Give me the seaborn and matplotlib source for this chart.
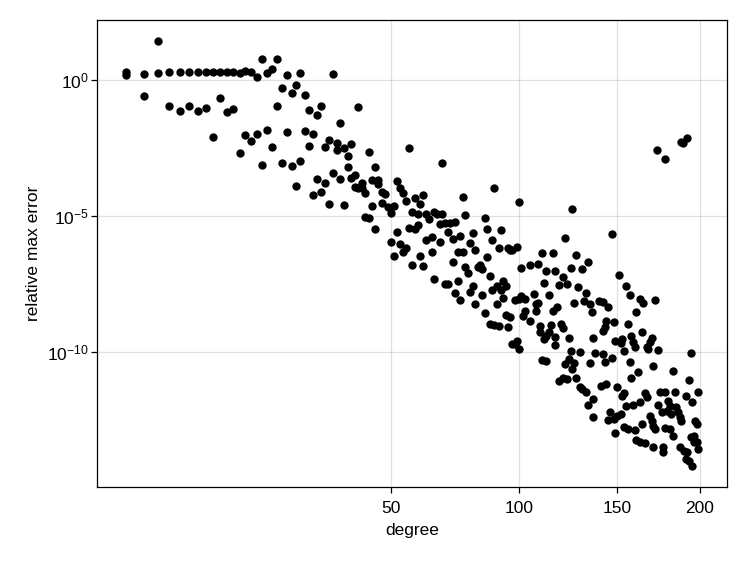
"""
Scatter of relative max error against polynomial degree (sqrt x, log y).
"""

import numpy as np
import pandas as pd
import matplotlib
matplotlib.use('Agg')
import matplotlib.pyplot as plt
import seaborn as sns
from matplotlib.ticker import FixedLocator, FixedFormatter, NullLocator


# Values: degree and log10(relative max error)
deg_low = [1, 1, 2, 2, 3, 3, 4, 4, 5, 5, 6, 6, 7, 7, 8, 8, 9, 9, 10, 10,
           11, 11, 12, 12, 13, 13, 14, 14, 15, 15, 16, 16, 17, 17, 18, 18,
           19, 19, 20, 20, 21, 21, 22, 22, 23, 23, 24, 24, 25, 25, 26, 26,
           27, 27, 28, 28, 29, 29, 30, 30, 31, 31, 32, 32, 33, 33, 34, 34,
           35, 35, 36, 36, 37, 37, 38, 38, 39, 39, 40, 40]
err_low = [0.28, 0.16, 0.20, -0.59, 1.42, 0.27, 0.29, -0.96, 0.29, -1.14,
           0.29, -0.97, 0.29, -1.15, 0.29, -1.02, 0.29, -2.11, 0.29, -0.65,
           0.29, -1.19, 0.29, -1.09, 0.27, -2.68, 0.31, -2.04, 0.29, -2.26,
           0.10, -1.99, 0.75, -3.12, 0.27, -1.85, 0.40, -2.48, 0.75, -0.98,
           -0.29, -3.05, 0.18, -1.93, -0.49, -3.17, -0.18, -3.92, 0.27, -3.00,
           -0.55, -1.90, -1.10, -2.44, -1.99, -4.25, -1.31, -3.66, -0.96, -4.11,
           -2.48, -3.79, -2.23, -4.58, 0.21, -3.42, -2.32, -2.58, -1.57, -3.63,
           -2.52, -4.62, -2.81, -3.22, -2.36, -3.62, -3.49, -3.93, -1.01, -3.99]

deg_mid = [41, 41, 42, 42, 43, 43, 44, 44, 45, 45, 46, 46, 47, 47, 48, 49,
           50, 50, 51, 51, 52, 52, 53, 53, 54, 54, 55, 55, 56, 56, 57, 57,
           58, 58, 59, 59, 60, 60, 61, 61, 62, 62, 63, 64, 64, 65, 65, 66,
           67, 67, 68, 68, 69, 69, 70, 70, 71, 72, 72, 73, 73, 74, 74, 75,
           75, 76, 76, 77, 77, 78, 79, 79, 80, 80, 81, 81, 82, 83, 84, 84,
           85, 85, 86, 86, 87, 87, 88, 88, 89, 89, 90, 90, 91, 91, 92, 92,
           93, 93, 94, 94, 95, 95, 96, 96, 97, 97, 98, 98, 99, 99, 100, 100,
           100]
err_mid = [-3.81, -3.99, -4.15, -5.03, -2.64, -5.10, -3.67, -4.64, -3.22, -5.48,
           -3.67, -3.83, -4.11, -4.54, -4.20, -4.69, -4.91, -5.98, -4.63, -6.47,
           -3.71, -5.58, -3.99, -6.04, -4.17, -6.32, -4.45, -6.20, -2.52, -5.46,
           -4.87, -6.80, -4.34, -5.48, -4.92, -5.33, -4.55, -6.48, -4.25, -6.85,
           -4.93, -5.91, -5.12, -5.79, -6.35, -4.85, -7.31, -4.92, -5.30, -5.98,
           -3.07, -4.93, -5.26, -7.53, -5.58, -7.53, -5.26, -5.85, -6.69, -5.24,
           -7.85, -6.32, -7.41, -5.74, -8.10, -4.30, -6.32, -4.97, -6.90, -7.09,
           -6.01, -7.82, -5.65, -7.57, -6.26, -8.24, -6.87, -6.80, -6.96, -7.90,
           -5.08, -8.57, -5.47, -6.53, -7.22, -9.00, -5.91, -7.75, -3.99, -9.01,
           -7.60, -8.24, -6.20, -9.05, -5.51, -7.75, -7.41, -8.02, -7.60, -8.64,
           -6.18, -9.08, -6.25, -8.74, -6.26, -9.72, -8.10, -9.72, -6.14, -9.60,
           -4.50, -9.90, -8.06]

# degree 101-140
deg_high_a = [101, 105, 109, 111, 112, 113, 116, 117, 119, 121, 122, 123, 125,
              126, 128, 129, 131, 134, 101, 103, 107, 108, 109, 108, 103, 102,
              105, 114, 118, 116, 127, 132, 133, 135, 136, 140, 110, 110, 113,
              115, 120, 121, 114, 117, 117, 112, 124, 137, 125, 130, 124, 127,
              122, 126, 138, 135, 111, 113, 121, 119, 123, 128, 130, 133, 131,
              137, 134, 137]
err_high_a = [-6.94, -6.81, -6.79, -6.38, -7.49, -7.04, -6.37, -7.04, -7.55, -7.27,
              -5.81, -7.51, -6.93, -4.74, -6.46, -7.63, -6.95, -6.69, -7.94, -8.06,
              -7.88, -8.24, -8.22, -8.49, -8.49, -8.68, -8.86, -7.90, -8.34, -8.49,
              -8.22, -8.12, -7.85, -8.24, -8.55, -8.15, -9.04, -9.29, -9.41, -9.01,
              -8.98, -9.13, -9.29, -9.47, -9.74, -9.53, -9.51, -9.51, -9.96, -10.03,
              -10.27, -10.43, -10.45, -10.64, -10.05, -10.43, -10.29, -10.33, -10.97,
              -11.09, -11.00, -10.97, -11.31, -11.47, -11.37, -11.74, -11.95, -12.39]

# degree 141-200
deg_high_b = [147, 151, 155, 157, 163, 165, 172, 161, 142, 145, 144, 143, 142,
              148, 156, 164, 149, 153, 152, 158, 159, 160, 170, 169, 167, 168,
              174, 194, 142, 143, 147, 154, 157, 162, 171, 183, 141, 144, 150,
              158, 193, 153, 154, 166, 167, 175, 178, 184, 191, 199, 195, 155,
              159, 163, 174, 180, 181, 185, 179, 176, 182, 186, 187, 146, 145,
              150, 152, 148, 169, 170, 171, 172, 164, 154, 156, 160, 149, 178,
              181, 183, 188, 197, 198, 161, 163, 166, 171, 177, 177, 187, 190,
              192, 194, 196, 198, 199, 196, 191, 193, 195]
err_high_b = [-5.66, -7.17, -7.57, -7.90, -8.06, -8.20, -8.09, -8.53, -8.19, -8.37,
              -8.86, -9.11, -9.23, -8.90, -8.98, -9.29, -9.60, -9.53, -9.69, -9.44,
              -9.66, -9.82, -9.50, -9.66, -9.82, -9.90, -9.94, -10.05, -10.08, -10.39,
              -10.23, -9.99, -10.39, -10.76, -10.52, -10.73, -11.25, -11.19, -11.29,
              -10.97, -11.03, -11.62, -11.53, -11.53, -11.68, -11.50, -11.50, -11.50,
              -11.62, -11.47, -11.87, -11.99, -11.95, -11.87, -11.96, -11.83, -11.99,
              -12.05, -12.17, -12.23, -12.29, -12.23, -12.42, -12.23, -12.53, -12.36,
              -12.29, -12.48, -12.36, -12.54, -12.72, -12.85, -12.66, -12.79, -12.85,
              -12.88, -13.01, -12.81, -12.85, -13.09, -12.54, -12.54, -12.66, -13.25,
              -13.34, -13.38, -13.50, -13.50, -13.71, -13.52, -13.64, -13.71, -13.15,
              -13.09, -13.34, -13.58, -13.34, -13.95, -14.01, -14.20]

# the few high-degree runs that blew up
deg_outlier = [173, 178, 188, 189, 192]
err_outlier = [-2.57, -2.93, -2.30, -2.32, -2.13]

y_ticks = [1e0, 1e-5, 1e-10]
y_ticklabels = ['$10^{0}$', '$10^{-5}$', '$10^{-10}$']
x_ticks = [50, 100, 150, 200]


sns.set_style('white')
plt.rcParams['font.family'] = ['Liberation Sans', 'DejaVu Sans']
plt.rcParams['mathtext.fontset'] = 'custom'
plt.rcParams['mathtext.rm'] = 'Liberation Sans'
plt.rcParams['mathtext.it'] = 'Liberation Sans:italic'
plt.rcParams['mathtext.bf'] = 'Liberation Sans:bold'
plt.rcParams['text.color'] = 'black'
plt.rcParams['axes.labelcolor'] = 'black'
plt.rcParams['xtick.color'] = 'black'
plt.rcParams['ytick.color'] = 'black'

df = pd.DataFrame({
    'degree': deg_low + deg_mid + deg_high_a + deg_high_b + deg_outlier,
    'log_err': err_low + err_mid + err_high_a + err_high_b + err_outlier,
})
df['error'] = 10.0 ** df['log_err']

fig = plt.figure(figsize=(7.47, 5.61), dpi=100)
ax = fig.add_axes([0.1299, 0.1319, 0.8434, 0.8324])

sns.scatterplot(data=df, x='degree', y='error', color='black', s=36,
                linewidth=0, ax=ax, legend=False, zorder=3)

ax.set_xscale('function', functions=(np.sqrt, np.square))
ax.set_yscale('log')

# 5% margin in transformed space
sx = np.sqrt(df['degree'])
pad = 0.05 * (sx.max() - sx.min())
ax.set_xlim((sx.min() - pad) ** 2, (sx.max() + pad) ** 2)
ly = df['log_err']
pad = 0.05 * (ly.max() - ly.min())
ax.set_ylim(10 ** (ly.min() - pad), 10 ** (ly.max() + pad))

ax.xaxis.set_major_locator(FixedLocator(x_ticks))
ax.xaxis.set_minor_locator(NullLocator())
ax.yaxis.set_major_locator(FixedLocator(y_ticks))
ax.yaxis.set_major_formatter(FixedFormatter(y_ticklabels))
ax.yaxis.set_minor_locator(NullLocator())

ax.grid(True, color='black', alpha=0.12, linewidth=0.9)
ax.set_axisbelow(True)
for side in ['top', 'right', 'bottom', 'left']:
    ax.spines[side].set_visible(True)
    ax.spines[side].set_color('black')
    ax.spines[side].set_linewidth(0.9)

ax.tick_params(axis='both', which='major', direction='out', length=4.3,
               width=0.9, labelsize=12.5,
               bottom=True, left=True, top=False, right=False)
ax.tick_params(axis='x', pad=5.5)
ax.tick_params(axis='y', pad=1.5)

ax.set_xlabel('degree', fontsize=12.5, labelpad=5)
ax.set_ylabel('relative max error', fontsize=12.5, labelpad=4.5)

plt.savefig('out.png', dpi=100)
plt.close()
